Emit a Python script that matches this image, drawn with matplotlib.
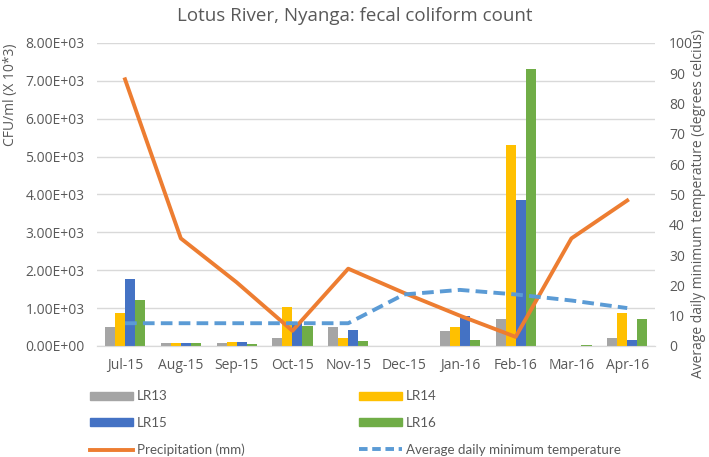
import numpy as np
import matplotlib.pyplot as plt
from matplotlib.lines import Line2D
from matplotlib.patches import Patch

plt.rcParams['font.family'] = ['Open Sans', 'DejaVu Sans']

months = ['Jul-15', 'Aug-15', 'Sep-15', 'Oct-15', 'Nov-15', 'Dec-15',
          'Jan-16', 'Feb-16', 'Mar-16', 'Apr-16']
lr13 = [500, 80, 70, 200, 500, 0, 400, 700, 10, 200]
lr14 = [870, 90, 100, 1020, 200, 0, 500, 5300, 5, 870]
lr15 = [1770, 80, 100, 600, 420, 0, 790, 3850, 5, 150]
lr16 = [1220, 70, 40, 530, 130, 0, 160, 7320, 30, 700]
precip = [88, 35.5, 21, 5, 25.5, 17.5, 10, 3, 35.5, 48]
min_temp = [7.5, 7.5, 7.5, 7.5, 7.5, 17, 18.5, 17, 15, 12.5]

bar_colors = ['#a5a5a5', '#ffc000', '#4472c4', '#70ad47']
bar_names = ['LR13', 'LR14', 'LR15', 'LR16']
text_col = '#595959'

fig = plt.figure(figsize=(7.09, 4.57), dpi=100)
ax = fig.add_axes([0.137, 0.243, 0.787, 0.663])
ax2 = ax.twinx()

x = np.arange(len(months))
w = 0.18
for i, (vals, c) in enumerate(zip([lr13, lr14, lr15, lr16], bar_colors)):
    ax.bar(x + (i - 1.5) * w, vals, width=w, color=c, zorder=3)

ax.set_xlim(-0.5, len(months) - 0.5)
ax.set_ylim(0, 8000)
ax.set_yticks(np.arange(0, 8001, 1000))
ax.set_yticklabels([f"{v:.2E}" for v in np.arange(0, 8001, 1000)])
ax.set_xticks(x)
ax.set_xticklabels(months)
ax.grid(axis='y', color='#d9d9d9', linewidth=1, zorder=0)
ax.set_axisbelow(True)
ax.tick_params(axis='both', length=0, labelsize=10, colors=text_col, pad=9)

ax2.plot(x, precip, color='#ed7d31', linewidth=2.8, zorder=4)
ax2.plot(x, min_temp, color='#5b9bd5', linewidth=2.8, linestyle=(0, (3, 1.6)), zorder=4)
ax2.set_ylim(0, 100)
ax2.set_yticks(np.arange(0, 101, 10))
ax2.tick_params(axis='y', length=0, labelsize=10, colors=text_col, pad=10)

for a in (ax, ax2):
    for s in ['top', 'right', 'left']:
        a.spines[s].set_visible(False)
    a.spines['bottom'].set_color('#d9d9d9')

fig.text(0.5, 0.965, 'Lotus River, Nyanga: fecal coliform count', ha='center', va='center',
         fontsize=13.5, color=text_col)
fig.text(0.015, 0.905, 'CFU/ml (X 10*3)', rotation=90, ha='center', va='top',
         fontsize=10, color=text_col)
fig.text(0.985, 0.555, 'Average daily minimum temperature (degrees celcius)', rotation=90,
         ha='center', va='center', fontsize=10, color=text_col)

patches = [Patch(color=c, label=n) for c, n in zip(bar_colors, bar_names)]
line_p = Line2D([0], [0], color='#ed7d31', lw=2.8, label='Precipitation (mm)')
line_t = Line2D([0], [0], color='#5b9bd5', lw=2.8, linestyle=(0, (2.2, 1.2)),
                label='Average daily minimum temperature')
columns = [([patches[0], patches[2], line_p], 90 / 709),
           ([patches[1], patches[3], line_t], 359 / 709)]
for hs, x0 in columns:
    fig.legend(handles=hs, loc='upper left', bbox_to_anchor=(x0, 0.146), frameon=False,
               prop={'family': ['Lato', 'DejaVu Sans'], 'size': 9.6},
               handlelength=3.2, handleheight=0.55, handletextpad=0.3,
               labelspacing=1.1, borderpad=0, borderaxespad=0, labelcolor=text_col)

fig.savefig('out.png', dpi=100)
